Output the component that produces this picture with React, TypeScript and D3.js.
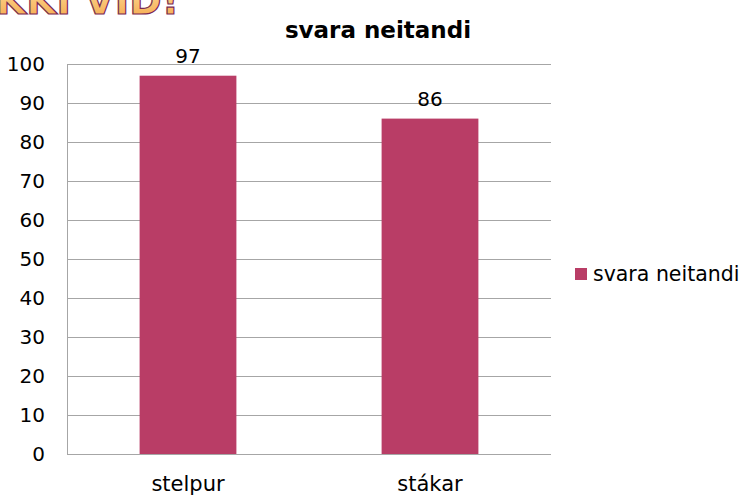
import React from "react";
import * as d3 from "d3";

const categories = ["stelpur", "stákar"];
const values = [97, 86];
const seriesName = "svara neitandi";
const yTicks = [0, 10, 20, 30, 40, 50, 60, 70, 80, 90, 100];

const W = 747;
const H = 497;
const margin = { left: 67, right: 196, top: 64, bottom: 43 };
const font = "'DejaVu Sans', Tahoma, sans-serif";
const barColor = "#B93D66";
const gridColor = "#A6A6A6";

export default function App() {
  const x = d3
    .scaleBand<string>()
    .domain(categories)
    .range([margin.left, W - margin.right])
    .paddingInner(0.6)
    .paddingOuter(0.3);
  const y = d3.scaleLinear().domain([0, 100]).range([H - margin.bottom, margin.top]);

  return (
    <svg
      width={W}
      height={H}
      style={{ position: "absolute", left: 0, top: 0, background: "#fff" }}
    >
      <defs>
        <linearGradient id="titleGrad" x1="0" y1="0" x2="0" y2="1">
          <stop offset="0%" stopColor="#FFE8A8" />
          <stop offset="100%" stopColor="#F4A447" />
        </linearGradient>
      </defs>

      {/* slide heading, cut off at top */}
      <text
        x={-4}
        y={14}
        fontFamily={font}
        fontWeight="bold"
        fontSize={39}
        fill="url(#titleGrad)"
        stroke="#7A2A52"
        strokeWidth={1.2}
      >
        KKI VID!
      </text>

      <text
        x={378}
        y={38}
        textAnchor="middle"
        fontFamily={font}
        fontWeight="bold"
        fontSize={23}
        fill="#000"
      >
        {seriesName}
      </text>

      {yTicks.map((t) => (
        <g key={t}>
          {t > 0 && (
            <line
              x1={margin.left}
              x2={W - margin.right}
              y1={Math.round(y(t)) + 0.5}
              y2={Math.round(y(t)) + 0.5}
              stroke={gridColor}
              strokeWidth={1}
            />
          )}
          <text
            x={45}
            y={y(t)}
            dy="0.35em"
            textAnchor="end"
            fontFamily={font}
            fontSize={20}
            fill="#000"
          >
            {t}
          </text>
        </g>
      ))}

      {/* axes */}
      <line
        x1={margin.left + 0.5}
        x2={margin.left + 0.5}
        y1={margin.top}
        y2={H - margin.bottom}
        stroke={gridColor}
      />
      <line
        x1={margin.left}
        x2={W - margin.right}
        y1={Math.round(y(0)) + 0.5}
        y2={Math.round(y(0)) + 0.5}
        stroke={gridColor}
      />

      {categories.map((c, i) => (
        <g key={c}>
          <rect
            x={x(c)}
            y={y(values[i])}
            width={x.bandwidth()}
            height={y(0) - y(values[i])}
            fill={barColor}
          />
          <text
            x={x(c)! + x.bandwidth() / 2}
            y={y(values[i]) - 13}
            textAnchor="middle"
            fontFamily={font}
            fontSize={20}
            fill="#000"
          >
            {values[i]}
          </text>
          <text
            x={x(c)! + x.bandwidth() / 2}
            y={H - 6}
            textAnchor="middle"
            fontFamily={font}
            fontSize={21}
            fill="#000"
          >
            {c}
          </text>
        </g>
      ))}

      {/* legend */}
      <rect x={575} y={268} width={12} height={12} fill={barColor} />
      <text x={593} y={274} dy="0.35em" fontFamily={font} fontSize={20.5} fill="#000">
        {seriesName}
      </text>
    </svg>
  );
}
